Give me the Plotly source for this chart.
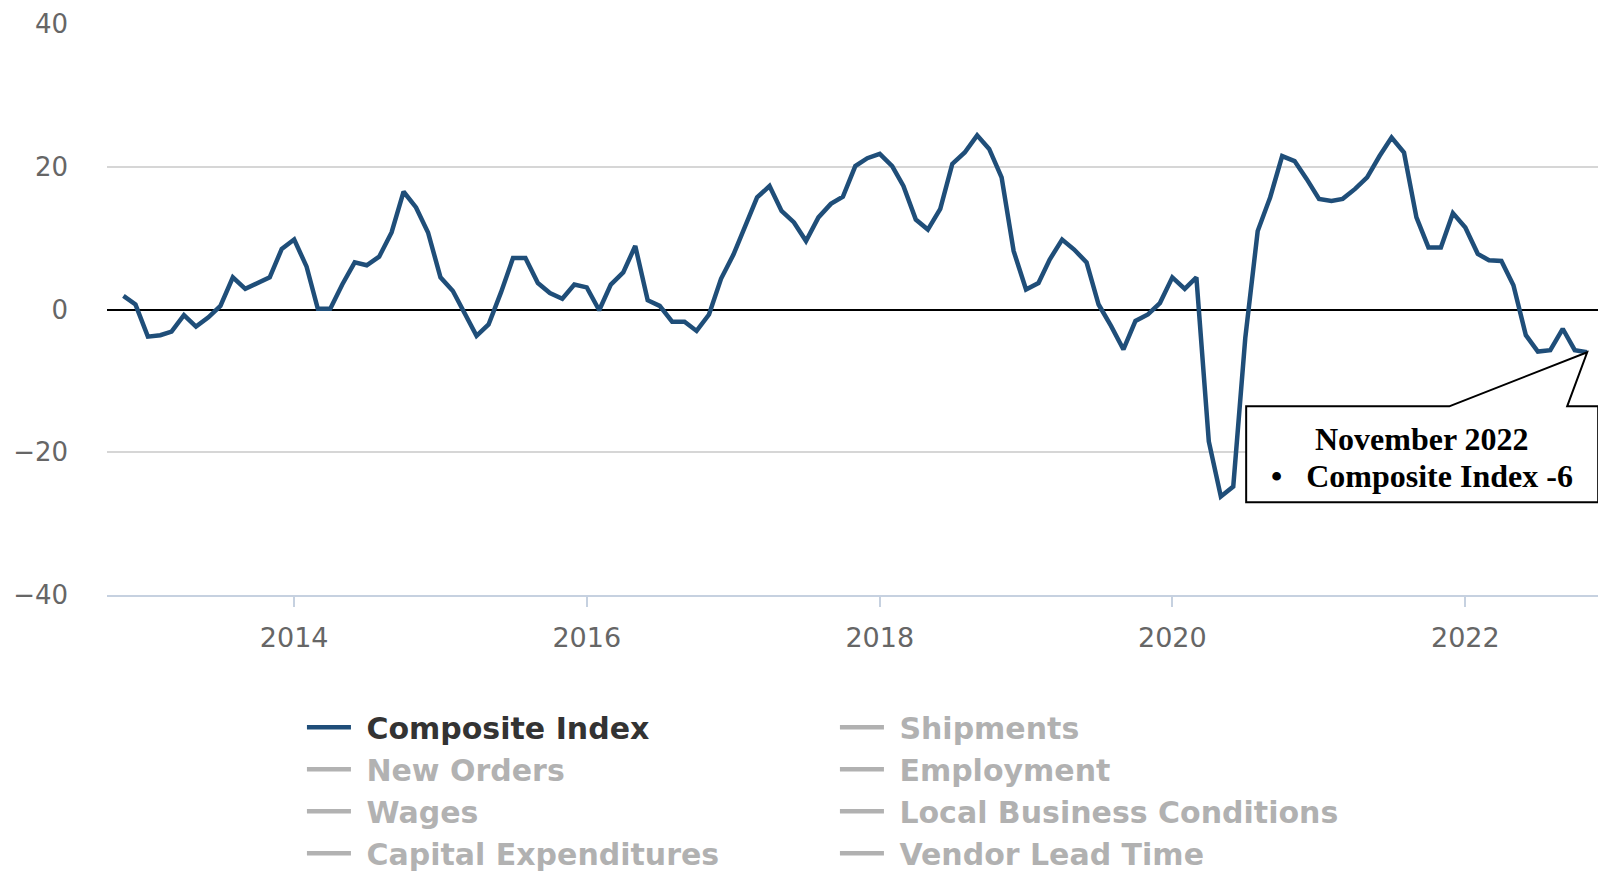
import pandas as pd
import plotly.graph_objects as go

# ---- data -------------------------------------------------------------
start_month = "2012-11-01"
composite = [
    1.9, 0.7,
    -3.8, -3.6, -3.1, -0.8, -2.4, -1.1, 0.5, 4.5, 2.9, 3.7, 4.5, 8.5,
    9.8, 6.0, 0.1, 0.1, 3.5, 6.6, 6.2, 7.4, 10.8, 16.5, 14.3, 10.8,
    4.5, 2.6, -0.5, -3.7, -2.1, 2.4, 7.2, 7.2, 3.7, 2.3, 1.5, 3.5,
    3.1, -0.1, 3.5, 5.2, 8.9, 1.3, 0.5, -1.7, -1.7, -3.0, -0.7, 4.3,
    7.7, 11.9, 15.7, 17.3, 13.8, 12.2, 9.6, 12.9, 14.8, 15.8, 20.1, 21.2,
    21.8, 20.1, 17.3, 12.6, 11.2, 14.1, 20.4, 22.0, 24.4, 22.5, 18.5, 8.2,
    2.8, 3.7, 7.0, 9.8, 8.4, 6.6, 0.7, -2.3, -5.6, -1.6, -0.7, 0.9,
    4.5, 2.9, 4.5, -18.5, -26.2, -24.8, -4.0, 11.0, 15.7, 21.5, 20.8, 18.3,
    15.5, 15.2, 15.5, 16.9, 18.5, 21.5, 24.1, 22.0, 12.9, 8.7, 8.7, 13.5,
    11.5, 7.8, 6.9, 6.8, 3.4, -3.6, -5.9, -5.7, -2.7, -5.7, -6.0,
]
months = pd.date_range(start_month, periods=len(composite), freq="MS")
legend_order = ["Composite Index", "Shipments", "New Orders", "Employment", "Wages",
                "Local Business Conditions", "Capital Expenditures", "Vendor Lead Time"]
y_ticks = [-40, -20, 0, 20, 40]
x_range = ["2012-09-21", "2022-12-08"]
y_range = [-40, 40]
callout_title = "November 2022"
callout_line = "Composite Index -6"

# ---- figure -----------------------------------------------------------
fig = go.Figure()
for name in legend_order:
    if name == "Composite Index":
        fig.add_trace(go.Scatter(
            x=months, y=composite, mode="lines", name=f"&nbsp;{name}",
            line=dict(color="#1f4e79", width=4.5),
        ))
    else:
        fig.add_trace(go.Scatter(
            x=[months[0]], y=[None], mode="lines",
            name=f'<span style="color:#666666">&nbsp;{name}</span>',
            line=dict(color="#666666", width=4.5), visible="legendonly",
        ))

# anchor of the callout = last data point, as fractions of the plot area
last_x = months[-1]
last_y = composite[-1]
r0, r1 = pd.Timestamp(x_range[0]), pd.Timestamp(x_range[1])
fx = (last_x - r0) / (r1 - r0)
fy = (last_y - y_range[0]) / (y_range[1] - y_range[0])

fig.add_shape(
    type="path", xref="paper", yref="paper", xsizemode="pixel", ysizemode="pixel",
    xanchor=fx, yanchor=fy,
    path="M -138,-54 L 0,0 L -20,-54 L 11,-54 L 11,-150 L -341,-150 L -341,-54 Z",
    line=dict(color="black", width=2), fillcolor="white", layer="above",
)
fig.add_annotation(
    x=fx, y=fy, xref="paper", yref="paper", showarrow=False,
    xanchor="center", yanchor="middle",
    text=f"<b>{callout_title}</b>", xshift=-165, yshift=-87,
    font=dict(family="Liberation Serif", size=32, color="black"),
)
fig.add_annotation(
    x=fx, y=fy, xref="paper", yref="paper", showarrow=False,
    xanchor="center", yanchor="middle",
    text=f"<b>•&nbsp;&nbsp;&nbsp;{callout_line}</b>", xshift=-165, yshift=-124,
    font=dict(family="Liberation Serif", size=32, color="black"),
)

fig.update_layout(
    width=1598, height=868,
    margin=dict(l=99, r=4, t=16, b=281, autoexpand=False),
    paper_bgcolor="white", plot_bgcolor="white",
    showlegend=True,
    legend=dict(
        orientation="h", x=0.1304, xanchor="left",
        yref="container", y=0.2012, yanchor="top",
        entrywidth=474, entrywidthmode="pixels", itemwidth=44,
        font=dict(family="DejaVu Sans", size=30, color="#333333", weight="bold"),
        bgcolor="rgba(0,0,0,0)", itemclick=False,
    ),
    xaxis=dict(
        type="date", range=x_range, automargin=False,
        tick0="2014-01-01", dtick="M24", tickformat="%Y",
        showgrid=False, showline=True, linecolor="#c6d1e0", linewidth=2,
        ticks="outside", ticklen=10, tickcolor="#c6d1e0", tickwidth=2,
        ticklabelstandoff=8,
        tickfont=dict(family="DejaVu Sans", size=27, color="#666666"),
        zeroline=False,
    ),
    yaxis=dict(
        range=y_range, tickvals=y_ticks, automargin=False,
        showgrid=True, gridcolor="#d6d6d6", gridwidth=2,
        zeroline=True, zerolinecolor="#000000", zerolinewidth=1.5,
        showline=False, ticks="", ticklabelstandoff=38,
        tickfont=dict(family="DejaVu Sans", size=26, color="#666666"),
    ),
)

fig.write_html("out.html")
